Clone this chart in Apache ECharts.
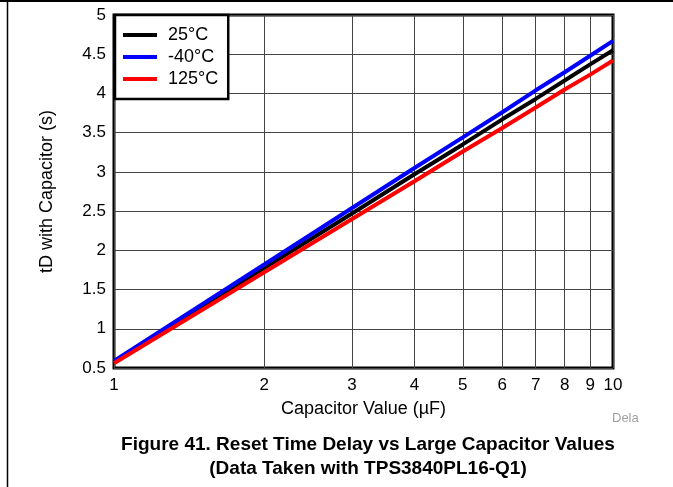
<!DOCTYPE html>
<html>
<head>
<meta charset="utf-8">
<script src="https://cdn.jsdelivr.net/npm/echarts@6/dist/echarts.min.js"></script>
<style>
html,body{margin:0;padding:0;background:#fff;}
#c{width:673px;height:487px;}
</style>
</head>
<body>
<div id="c"></div>
<script>
const capValues = [1, 2, 3, 4, 5, 6, 7, 8, 9, 10];
const td25 = [0.58, 1.775, 2.47, 2.97, 3.35, 3.67, 3.93, 4.165, 4.37, 4.55];
const tdM40 = [0.59, 1.82, 2.54, 3.05, 3.44, 3.76, 4.04, 4.27, 4.48, 4.67];
const td125 = [0.56, 1.72, 2.40, 2.88, 3.26, 3.56, 3.82, 4.05, 4.24, 4.42];
const xTicks = [1, 2, 3, 4, 5, 6, 7, 8, 9, 10];
const seriesNames = ['25°C', '-40°C', '125°C'];
const seriesColors = ['#000000', '#0000ff', '#ff0000'];

const FONT = 'Liberation Sans, Arial, sans-serif';
const chart = echarts.init(document.getElementById('c'), null, {renderer: 'canvas'});
const pairs = arr => capValues.map((c, i) => [c, arr[i]]);
const allData = [td25, tdM40, td125];

chart.setOption({
  animation: false,
  backgroundColor: '#fff',
  textStyle: {fontFamily: FONT},
  grid: {left: 114, top: 15, width: 499, height: 353, show: true, borderColor: '#000', borderWidth: 3, backgroundColor: 'transparent'},
  title: {
    text: 'Figure 41. Reset Time Delay vs Large Capacitor Values\n(Data Taken with TPS3840PL16-Q1)',
    left: 363, top: 428, textAlign: 'center',
    textStyle: {fontFamily: FONT, fontSize: 19, fontWeight: 'bold', color: '#000', lineHeight: 24}
  },
  legend: {
    orient: 'vertical', left: 115, top: 15,
    backgroundColor: '#fff', borderColor: '#000', borderWidth: 2.5,
    padding: [11, 10, 11, 8], itemGap: 4,
    itemWidth: 34, itemHeight: 4, icon: 'rect',
    textStyle: {fontFamily: FONT, fontSize: 18, color: '#000', padding: [0, 0, 0, 6]},
    data: seriesNames
  },
  xAxis: {
    type: 'log', logBase: 10, min: 1, max: 10,
    name: 'Capacitor Value (µF)', nameLocation: 'middle', nameGap: 32,
    nameTextStyle: {fontFamily: FONT, fontSize: 18, color: '#000'},
    axisLine: {show: false},
    axisTick: {show: false, customValues: xTicks},
    axisLabel: {customValues: xTicks, margin: 9, fontFamily: FONT, fontSize: 17, color: '#000', formatter: v => String(Math.round(v))},
    splitLine: {show: true, customValues: xTicks, lineStyle: {color: '#444', width: 1}},
    minorTick: {show: false}, minorSplitLine: {show: false}
  },
  yAxis: {
    type: 'value', min: 0.5, max: 5, interval: 0.5,
    name: 'tD with Capacitor (s)', nameLocation: 'middle', nameGap: 58,
    nameTextStyle: {fontFamily: FONT, fontSize: 18, color: '#000'},
    axisLine: {show: false},
    axisTick: {show: false},
    axisLabel: {margin: 8, fontFamily: FONT, fontSize: 17, color: '#000'},
    splitLine: {show: true, lineStyle: {color: '#444', width: 1}}
  },
  graphic: [
    {type: 'line', shape: {x1: 7.5, y1: 0, x2: 7.5, y2: 487}, style: {stroke: '#000', lineWidth: 1.5}, z: 100},
    {type: 'line', shape: {x1: 0, y1: 1, x2: 673, y2: 1}, style: {stroke: '#000', lineWidth: 2}, z: 100},
    {type: 'text', left: 612, top: 412, style: {text: 'Dela', fontFamily: FONT, fontSize: 13, fill: '#a0a0a0'}}
  ],
  series: seriesNames.map((n, i) => ({
    name: n, type: 'line', data: pairs(allData[i]),
    showSymbol: false, symbol: 'none', smooth: false,
    lineStyle: {color: seriesColors[i], width: 4},
    itemStyle: {color: seriesColors[i]},
    z: 2 + i
  }))
});
</script>
</body>
</html>
